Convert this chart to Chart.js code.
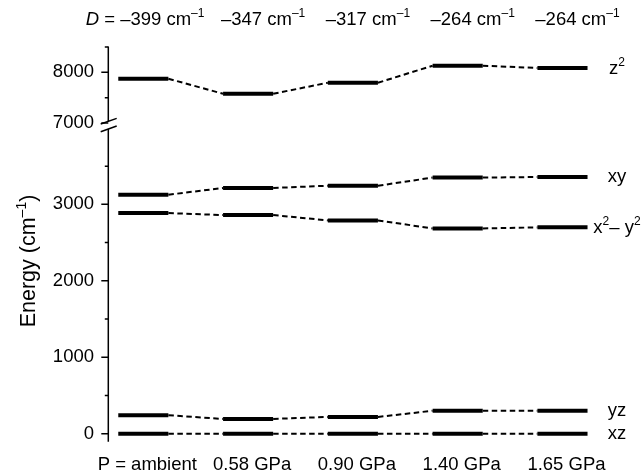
<!DOCTYPE html>
<html><head><meta charset="utf-8">
<script src="https://cdn.jsdelivr.net/npm/chart.js@4.4.1/dist/chart.umd.min.js"></script>
<style>html,body{margin:0;padding:0;background:#fff;}#wrap{width:641px;height:473px;position:relative;}</style>
</head><body><div id="wrap"><canvas id="c" width="641" height="473"></canvas></div>
<script>
// ---- data ----
const pressures = ['P = ambient', '0.58 GPa', '0.90 GPa', '1.40 GPa', '1.65 GPa'];
const dValues = ['\u2013399', '\u2013347', '\u2013317', '\u2013264', '\u2013264'];
const levelZ2 = [7873, 7577, 7794, 8131, 8085];
const levelXY = [3126, 3214, 3244, 3350, 3358];
const levelX2Y2 = [2886, 2860, 2790, 2685, 2699];
const levelYZ = [241, 193, 219, 300, 300];
const levelXZ = [0, 0, 0, 0, 0];
const lowerTicks = [0, 500, 1000, 1500, 2000, 2500, 3000, 3500];
const upperTicks = [7000, 7500, 8000, 8500];
const labeledTicks = [0, 1000, 2000, 3000, 7000, 8000];

// ---- style constants ----
const FONT = '"Liberation Sans", Arial, Helvetica, sans-serif';
const FS = 18.5;
const HALF = 0.239; // half width of a level bar in category units
const TOP_NUDGE = [19, 15, 15, 15, 15]; // px shift of top labels from column centre

function levelPoints(vals) {
  const pts = [];
  vals.forEach((v, i) => { pts.push({x: i - HALF, y: v}); pts.push({x: i + HALF, y: v}); });
  return pts;
}
const levels = [
  {key: 'z2', vals: levelZ2, axis: 'yHigh', label: [{t: 'z'}, {t: '2', sup: true}]},
  {key: 'xy', vals: levelXY, axis: 'yLow', label: [{t: 'xy'}]},
  {key: 'x2y2', vals: levelX2Y2, axis: 'yLow', label: [{t: 'x'}, {t: '2', sup: true}, {t: '\u2013 y'}, {t: '2', sup: true}]},
  {key: 'yz', vals: levelYZ, axis: 'yLow', label: [{t: 'yz'}]},
  {key: 'xz', vals: levelXZ, axis: 'yLow', label: [{t: 'xz'}]}
];

const datasets = levels.map(l => ({
  label: l.key,
  data: levelPoints(l.vals),
  yAxisID: l.axis,
  borderColor: '#000',
  borderWidth: 4,
  borderCapStyle: 'butt',
  pointRadius: 0,
  tension: 0,
  fill: false,
  clip: false,
  segment: {
    borderWidth: ctx => (ctx.p0DataIndex % 2 === 0 ? 4 : 2),
    borderDash: ctx => (ctx.p0DataIndex % 2 === 0 ? [] : [5.5, 3.5])
  }
}));

function richWidth(ctx, parts, fs) {
  let w = 0;
  parts.forEach(p => {
    ctx.font = (p.italic ? 'italic ' : '') + (p.sup ? fs * 0.65 : fs) + 'px ' + FONT;
    w += ctx.measureText(p.t).width;
  });
  return w;
}
function drawRich(ctx, parts, x, y, fs, align) {
  const w = richWidth(ctx, parts, fs);
  let cx = align === 'center' ? x - w / 2 : (align === 'right' ? x - w : x);
  ctx.textAlign = 'left';
  ctx.textBaseline = 'alphabetic';
  parts.forEach(p => {
    ctx.font = (p.italic ? 'italic ' : '') + (p.sup ? fs * 0.65 : fs) + 'px ' + FONT;
    ctx.fillText(p.t, cx, p.sup ? y - fs * 0.42 : y);
    cx += ctx.measureText(p.t).width;
  });
}

const decor = {
  id: 'decor',
  afterDraw(chart) {
    const ctx = chart.ctx;
    const xs = chart.scales.x, lo = chart.scales.yLow, hi = chart.scales.yHigh;
    const L = chart.chartArea.left + 0.3;
    const b = hi.bottom;
    ctx.save();
    ctx.strokeStyle = '#000';
    ctx.fillStyle = '#000';
    ctx.lineWidth = 1.5;
    // axis line with break
    ctx.beginPath();
    ctx.moveTo(L, hi.top); ctx.lineTo(L, b - 3);
    ctx.moveTo(L, b + 4.6); ctx.lineTo(L, lo.bottom);
    ctx.stroke();
    // break marks
    ctx.beginPath();
    ctx.moveTo(L - 7.6, b - 0.4); ctx.lineTo(L + 8.4, b - 6.1);
    ctx.moveTo(L - 7.6, b + 7.3); ctx.lineTo(L + 8.4, b + 1.6);
    ctx.stroke();
    // ticks
    ctx.beginPath();
    [[lo, lowerTicks], [hi, upperTicks]].forEach(([s, tv]) => {
      tv.forEach(v => {
        const y = s.getPixelForValue(v);
        const len = labeledTicks.includes(v) ? 7 : 3.5;
        ctx.moveTo(L - len, y); ctx.lineTo(L, y);
      });
    });
    ctx.stroke();
    // top D labels
    dValues.forEach((d, i) => {
      const cx = xs.getPixelForValue(i) + TOP_NUDGE[i];
      const parts = [{t: d + ' cm'}, {t: '\u20131', sup: true}];
      drawRich(ctx, parts, cx, 25, FS, 'center');
      if (i === 0) {
        const w = richWidth(ctx, parts, FS);
        drawRich(ctx, [{t: 'D', italic: true}, {t: ' = '}], cx - w / 2, 25, FS, 'right');
      }
    });
    // bottom pressure labels
    pressures.forEach((p, i) => {
      drawRich(ctx, [{t: p}], xs.getPixelForValue(i) + 4, 470, FS, 'center');
    });
    // right orbital labels
    levels.forEach(l => {
      const s = chart.scales[l.axis];
      const last = l.vals.length - 1;
      drawRich(ctx, l.label, xs.getPixelForValue(last) + 54.5, s.getPixelForValue(l.vals[last]) + 5.5, FS, 'center');
    });
    // y title
    ctx.translate(35, 261);
    ctx.rotate(-Math.PI / 2);
    drawRich(ctx, [{t: 'Energy (cm'}, {t: '\u20131', sup: true}, {t: ')'}], 0, 0, 21.5, 'center');
    ctx.restore();
  }
};

const tickCommon = {
  autoSkip: false,
  padding: 7,
  color: '#000',
  font: {family: FONT, size: FS},
  callback: v => (labeledTicks.includes(v) ? String(v) : '')
};
const gridCommon = {drawOnChartArea: false, drawTicks: true, tickLength: 7, color: 'rgba(0,0,0,0)'};

new Chart(document.getElementById('c'), {
  type: 'line',
  data: {datasets},
  options: {
    responsive: false,
    animation: false,
    devicePixelRatio: 1,
    layout: {padding: {top: 46.5, bottom: 31.3, left: 0, right: 36.6}},
    plugins: {legend: {display: false}, tooltip: {enabled: false}},
    scales: {
      x: {type: 'linear', display: false, min: -0.337, max: 4.4},
      yLow: {
        type: 'linear', position: 'left', stack: 'energy', stackWeight: 317.3,
        min: -105, max: 4045,
        afterBuildTicks: s => { s.ticks = lowerTicks.map(v => ({value: v})); },
        afterFit: s => { s.width = 108; },
        grid: gridCommon, border: {display: false}, ticks: tickCommon
      },
      yHigh: {
        type: 'linear', position: 'left', stack: 'energy', stackWeight: 78,
        min: 6970, max: 8510,
        afterBuildTicks: s => { s.ticks = upperTicks.map(v => ({value: v})); },
        afterFit: s => { s.width = 108; },
        grid: gridCommon, border: {display: false}, ticks: tickCommon
      }
    }
  },
  plugins: [decor]
});
</script>
</body></html>
